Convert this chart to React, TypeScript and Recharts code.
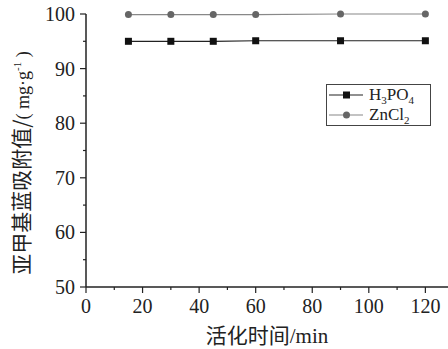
import React from "react";
import { LineChart, Line, XAxis, YAxis, Legend, Label } from "recharts";

const times = [15, 30, 45, 60, 90, 120];
const h3po4 = [95.0, 95.0, 95.0, 95.1, 95.1, 95.1];
const zncl2 = [99.9, 99.9, 99.9, 99.9, 100.0, 100.0];

const xTicks = [0, 10, 20, 30, 40, 50, 60, 70, 80, 90, 100, 110, 120];
const yTicks = [50, 55, 60, 65, 70, 75, 80, 85, 90, 95, 100];

const data = times.map((t, i) => ({ t, h3po4: h3po4[i], zncl2: zncl2[i] }));

const SERIF = "Liberation Serif, DejaVu Serif, serif";
const CJK = "Noto Sans CJK SC, sans-serif";
const AXIS = "#222";

function XTick(props: any) {
  const { x, y, payload } = props;
  const major = payload.value % 20 === 0;
  return (
    <g>
      <line x1={x} x2={x} y1={y} y2={y + (major ? 6 : 3)} stroke={AXIS} strokeWidth={1.2} />
      {major && (
        <text x={x} y={y + 26} textAnchor="middle" style={{ fontFamily: SERIF, fontSize: 20 }} fill="#222">
          {payload.value}
        </text>
      )}
    </g>
  );
}

function YTick(props: any) {
  const { x, y, payload } = props;
  const major = payload.value % 10 === 0;
  return (
    <g>
      <line x1={x} x2={x - (major ? 6 : 3)} y1={y} y2={y} stroke={AXIS} strokeWidth={1.2} />
      {major && (
        <text x={x - 11} y={y + 7} textAnchor="end" style={{ fontFamily: SERIF, fontSize: 20 }} fill="#222">
          {payload.value}
        </text>
      )}
    </g>
  );
}

function SquareDot(props: any) {
  const { cx, cy } = props;
  return <rect x={cx - 3.5} y={cy - 3.5} width={7} height={7} fill="#111" />;
}

function RoundDot(props: any) {
  const { cx, cy } = props;
  return <circle cx={cx} cy={cy} r={3.5} fill="#666" />;
}

const subStyle: React.CSSProperties = { fontSize: 11, position: "relative", top: 4, lineHeight: 0 };

function LegendBox() {
  const row = (square: boolean, color: string, label: React.ReactNode) => (
    <div style={{ display: "flex", alignItems: "center", height: 20 }}>
      <svg width={40} height={12}>
        <line x1={2} x2={36} y1={6} y2={6} stroke={color} strokeWidth={1.2} />
        {square ? <rect x={16} y={2.5} width={7} height={7} fill="#111" /> : <circle cx={19.5} cy={6} r={3.5} fill="#666" />}
      </svg>
      <span style={{ fontFamily: SERIF, fontSize: 17, color: "#222", marginLeft: 2, lineHeight: "18px" }}>{label}</span>
    </div>
  );
  return (
    <div style={{ border: "1px solid #444", background: "#fff", width: 105, height: 42, paddingTop: 0, boxSizing: "border-box" }}>
      {row(true, "#222", <>H<span style={subStyle}>3</span>PO<span style={subStyle}>4</span></>)}
      {row(false, "#888", <>ZnCl<span style={subStyle}>2</span></>)}
    </div>
  );
}

function YLabel() {
  return (
    <text transform="translate(29,163) rotate(-90)" textAnchor="middle" fill="#222">
      <tspan style={{ fontFamily: CJK, fontSize: 21 }}>亚甲基蓝吸附值/</tspan>
      <tspan style={{ fontFamily: SERIF, fontSize: 18 }}>( mg·g</tspan>
      <tspan style={{ fontFamily: SERIF, fontSize: 11 }} dy={-8}>-1</tspan>
      <tspan style={{ fontFamily: SERIF, fontSize: 18 }} dy={8}> )</tspan>
    </text>
  );
}

function XLabel() {
  return (
    <text x={267} y={343} textAnchor="middle" fill="#222">
      <tspan style={{ fontFamily: CJK, fontSize: 21 }}>活化时间</tspan>
      <tspan style={{ fontFamily: SERIF, fontSize: 21 }}>/min</tspan>
    </text>
  );
}

export default function App() {
  return (
    <div style={{ position: "absolute", left: 0, top: 0, width: 448, height: 349, background: "#fff" }}>
      <LineChart width={448} height={349} data={data} margin={{ top: 14, right: 0, left: 0, bottom: 0 }}>
        <XAxis
          dataKey="t"
          type="number"
          domain={[0, 128]}
          ticks={xTicks}
          interval={0}
          tickSize={0}
          tickMargin={0}
          height={62}
          stroke={AXIS}
          strokeWidth={1.5}
          tick={<XTick />}
        >
          <Label content={<XLabel />} />
        </XAxis>
        <YAxis
          type="number"
          domain={[50, 100]}
          ticks={yTicks}
          interval={0}
          tickSize={0}
          tickMargin={0}
          width={86}
          stroke={AXIS}
          strokeWidth={1.5}
          tick={<YTick />}
        >
          <Label content={<YLabel />} />
        </YAxis>
        <Legend
          layout="horizontal"
          verticalAlign="middle"
          align="center"
          content={<LegendBox />}
          wrapperStyle={{ position: "absolute", left: 326, top: 84, width: 105 }}
        />
        <Line dataKey="h3po4" name="H3PO4" stroke="#222" strokeWidth={1.2} dot={<SquareDot />} isAnimationActive={false} />
        <Line dataKey="zncl2" name="ZnCl2" stroke="#888" strokeWidth={1.2} dot={<RoundDot />} isAnimationActive={false} />
      </LineChart>
    </div>
  );
}
